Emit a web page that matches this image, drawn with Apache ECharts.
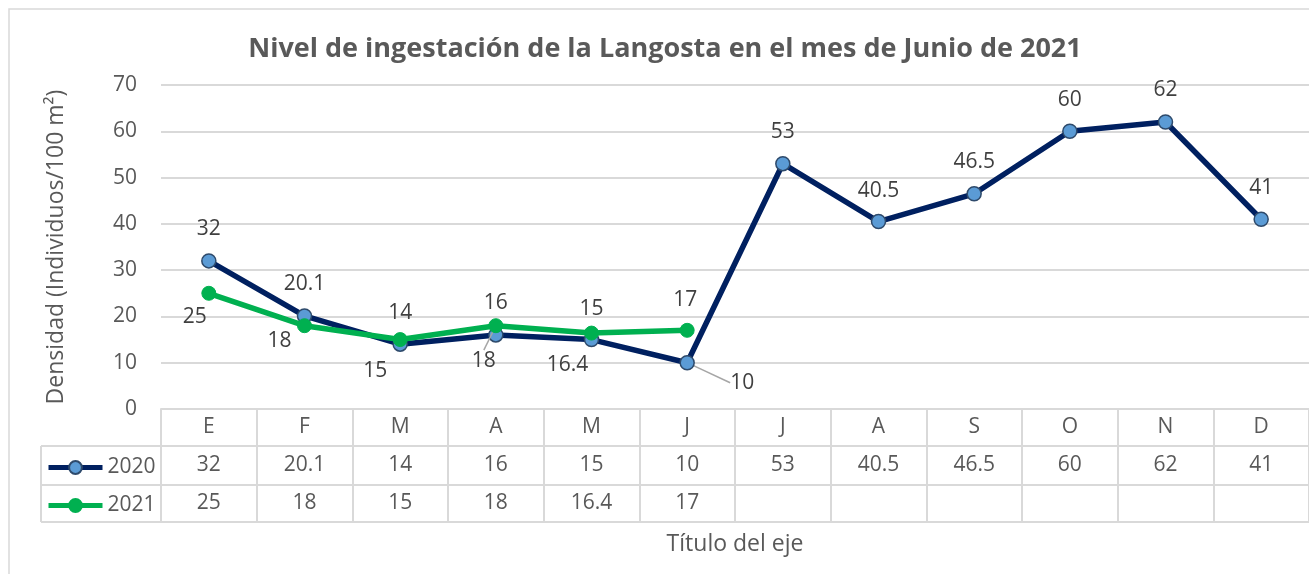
<!DOCTYPE html>
<html>
<head>
<meta charset="utf-8">
<script src="https://cdn.jsdelivr.net/npm/echarts@6/dist/echarts.min.js"></script>
<style>
  html, body { margin: 0; padding: 0; background: #fff; }
  #main { width: 1309px; height: 574px; }
</style>
</head>
<body>
<div id="main"></div>
<script>
// data
var months = ['E', 'F', 'M', 'A', 'M', 'J', 'J', 'A', 'S', 'O', 'N', 'D'];
var v2020 = [32, 20.1, 14, 16, 15, 10, 53, 40.5, 46.5, 60, 62, 41];
var v2021 = [25, 18, 15, 18, 16.4, 17];
var yTicks = [0, 10, 20, 30, 40, 50, 60, 70];

// where each data label sits, relative to its point (dx, dy)
var shift2020 = [[0,-32],[0,-32],[0,-31],[0,-32],[0,-31],[55,20],[0,-32],[0,-31],[0,-32],[0,-31],[0,-32],[0,-31]];
var shift2021 = [[-14,24],[-25,15],[-25,31],[-12,35],[-24,32],[-2,-30]];
var leader2020 = [5];
var leader2021 = [3];

var font = '"Open Sans", sans-serif';
var txt = '#595959';
var gridCol = '#D9D9D9';

var G = { left: 161, top: 85, width: 1152, height: 324 };
var rowH = [37, 39, 37]; // header, 2020, 2021

var chart = echarts.init(document.getElementById('main'));

function items(vals, leaders) {
  return vals.map(function (v, i) {
    var it = { value: v };
    if (leaders.indexOf(i) >= 0) it.labelLine = { show: true };
    return it;
  });
}

function layoutFor(shifts) {
  return function (p) {
    var s = shifts[p.dataIndex] || [0, -32];
    return {
      x: p.rect.x + p.rect.width / 2 + s[0],
      y: p.rect.y + p.rect.height / 2 + s[1],
      align: 'center',
      verticalAlign: 'middle',
      hideOverlap: false
    };
  };
}

var option = {
  animation: false,
  textStyle: { fontFamily: font },
  title: {
    text: 'Nivel de ingestación de la Langosta en el mes de Junio de 2021',
    left: 660, top: 31, textAlign: 'center',
    textStyle: { fontFamily: font, fontSize: 27, fontWeight: 'bold', color: txt }
  },
  legend: {
    orient: 'vertical', left: 41, top: 452,
    itemWidth: 54, itemHeight: 16, itemGap: 17,
    lineStyle: { width: 5 },
    textStyle: { fontFamily: font, fontSize: 21, color: txt, lineHeight: 21 },
    data: ['2020', '2021']
  },
  grid: G,
  xAxis: {
    type: 'category', data: months, boundaryGap: true,
    name: 'Título del eje', nameLocation: 'middle', nameGap: 124,
    nameTextStyle: { fontFamily: font, fontSize: 23, color: txt },
    axisLine: { lineStyle: { color: gridCol, width: 2 } },
    axisTick: { show: true, length: 113, lineStyle: { color: gridCol, width: 2 } },
    axisLabel: { margin: 8, fontFamily: font, fontSize: 21, color: txt }
  },
  yAxis: {
    type: 'value', min: 0, max: 70, interval: 10,
    name: 'Densidad (Individuos/100 m²)', nameLocation: 'middle', nameGap: 93,
    nameTextStyle: { fontFamily: font, fontSize: 23, color: txt },
    axisLabel: {
      margin: 24, fontFamily: font, fontSize: 21, color: txt,
      formatter: function (v) { return yTicks.indexOf(v) >= 0 ? String(v) : ''; }
    },
    splitLine: { lineStyle: { color: gridCol, width: 2 } }
  },
  series: [
    {
      name: '2020', type: 'line', data: items(v2020, leader2020),
      symbol: 'circle', symbolSize: 14,
      lineStyle: { color: '#002060', width: 5.5 },
      itemStyle: { color: '#5B9BD5', borderColor: '#2E4A6B', borderWidth: 1.5 },
      label: { show: true, fontFamily: font, fontSize: 21, color: '#404040' },
      labelLine: { show: false, lineStyle: { color: '#A6A6A6', width: 1.5 } },
      labelLayout: layoutFor(shift2020),
      z: 2
    },
    {
      name: '2021', type: 'line', data: items(v2021, leader2021),
      symbol: 'circle', symbolSize: 14,
      lineStyle: { color: '#00B050', width: 5.5 },
      itemStyle: { color: '#00B050', borderColor: '#00B050', borderWidth: 1 },
      label: { show: true, fontFamily: font, fontSize: 21, color: '#404040' },
      labelLine: { show: false, lineStyle: { color: '#A6A6A6', width: 1.5 } },
      labelLayout: layoutFor(shift2021),
      z: 3
    }
  ]
};
chart.setOption(option);

// data table under the axis
var bottomY = G.top + G.height;
var y1 = bottomY + rowH[0];
var y2 = y1 + rowH[1];
var y3 = y2 + rowH[2];
var line = function (x1, ya, x2, yb) {
  return { type: 'line', silent: true, shape: { x1: x1, y1: ya, x2: x2, y2: yb },
    style: { stroke: gridCol, lineWidth: 2 } };
};
var gfx = [
  { type: 'rect', silent: true, shape: { x: 9, y: 9, width: 1400, height: 700 },
    style: { fill: null, stroke: gridCol, lineWidth: 1.5 } },
  line(41, y1, 1320, y1), line(41, y2, 1320, y2), line(41, y3, 1320, y3),
  line(41, y1, 41, y3)
];
[v2020, v2021].forEach(function (vals, r) {
  var cy = r === 0 ? (y1 + y2) / 2 : (y2 + y3) / 2;
  vals.forEach(function (v, i) {
    if (v == null) return;
    var cx = chart.convertToPixel({ xAxisIndex: 0 }, i);
    gfx.push({ type: 'text', silent: true, x: cx, y: cy,
      style: { text: String(v), fill: txt, font: '21px ' + font, align: 'center', verticalAlign: 'middle' } });
  });
});
chart.setOption({ graphic: gfx });
</script>
</body>
</html>
